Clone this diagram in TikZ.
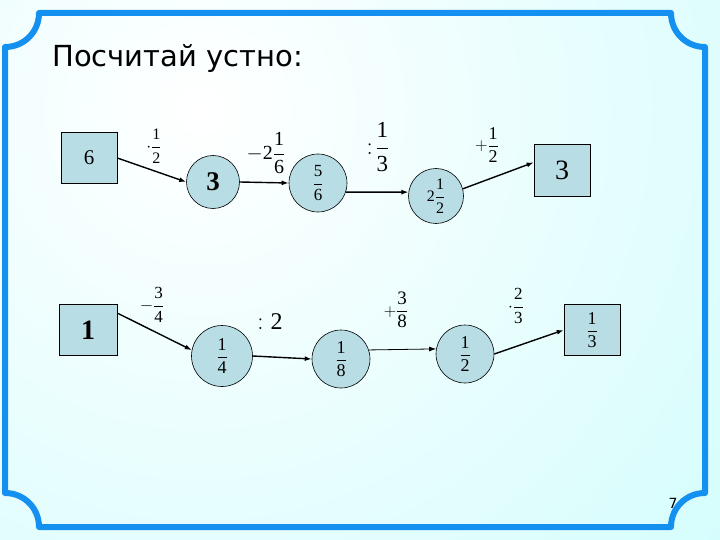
\documentclass[tikz,border=0pt]{standalone}
\usepackage{amsmath}
\usepackage{fontspec}
\setmainfont{Liberation Serif}
\newfontfamily\titlefont{DejaVu Sans}
\usetikzlibrary{arrows.meta}
\definecolor{framec}{RGB}{20,145,240}
\definecolor{bgc}{RGB}{205,252,252}
\definecolor{nodec}{RGB}{184,221,228}
\newcommand\fsz[1]{\fontsize{#1}{#1}\selectfont}
\newcommand\tf[2]{\dfrac{\text{#1}}{\text{#2}}}
\tikzset{
  frameline/.style={draw=framec, line width=6pt, line join=round},
  valbox/.style={draw, fill=nodec, minimum width=56pt, minimum height=51pt, inner sep=0pt, line width=0.6pt},
  valcirc/.style={draw, fill=nodec, circle, inner sep=0pt, line width=0.6pt},
  lbl/.style={inner sep=0pt},
  arr/.style={-{Latex[length=7pt,width=5pt]}, line width=1.4pt},
  thinarr/.style={-{Latex[length=7pt,width=5pt]}, line width=0.8pt}
}
\begin{document}
\begin{tikzpicture}[x=1pt,y=-1pt]
\useasboundingbox (0,0) rectangle (720,540);
\begin{scope}
\clip (0,0) rectangle (720,540);
\shade[inner color=white, outer color=bgc] (200,110) circle (820);
\end{scope}

% title and page number
\node[anchor=base west, inner sep=0pt, font=\titlefont\fsz{29}] (title) at (52,67) {Посчитай устно:};
\node[font=\titlefont\fsz{14}, inner sep=0pt] (pg) at (673,503) {7};

% frame
\draw[frameline] (39,13) -- (671,13) .. controls (671,32) and (686,47) .. (705,47)
  -- (705,493) .. controls (686,493) and (671,508) .. (671,527)
  -- (39,527) .. controls (39,508) and (24,493) .. (5,493)
  -- (5,47) .. controls (24,47) and (39,32) .. (39,13) -- cycle;

% row 1
\node[valbox] (b6) at (89,158) {\fsz{21}6};
\node[valcirc, minimum size=53pt] (c3) at (213,182) {\fsz{27}\textbf{3}};
\node[valcirc, minimum size=58pt] (c56) at (318,183) {\fsz{17}$\tf{5}{6}$};
\node[valcirc, minimum size=55pt] (c212) at (436,196) {\fsz{16}$\text{2}\tf{1}{2}$};
\node[valbox, minimum height=52pt] (b3) at (562,170) {\fsz{28}3};

\node[lbl] (l1) at (154,146) {\fsz{16}$\cdot\tf{1}{2}$};
\node[lbl] (l2) at (266,153) {\fsz{20}$-\text{2}\tf{1}{6}$};
\node[lbl] (l3) at (378,147) {\fsz{23}$:\!\tf{1}{3}$};
\node[lbl] (l4) at (487,145) {\fsz{18}$+\tf{1}{2}$};

\draw[arr] (b6.east) -- (c3.west);
\draw[arr] (c3.east) -- (c56.west);
\draw[arr] (c56.-18) -- (c212.172);
\draw[arr] (c212.15) -- (b3.165);

% row 2
\node[valbox, minimum width=58pt] (b1) at (88,330) {\fsz{28}\textbf{1}};
\node[valcirc, minimum size=61pt] (c14) at (222,356) {\fsz{18}$\tf{1}{4}$};
\node[valcirc, minimum size=58pt] (c18) at (341,359) {\fsz{18}$\tf{1}{8}$};
\node[valcirc, minimum size=58pt] (c12) at (465,354) {\fsz{18}$\tf{1}{2}$};
\node[valbox] (b13) at (592,330) {\fsz{18}$\tf{1}{3}$};

\node[lbl] (l5) at (152,305) {\fsz{17}$-\tf{3}{4}$};
\node[lbl] (l6) at (270,322) {\fsz{24}$:\text{2}$};
\node[lbl] (l7) at (396,310) {\fsz{19}$+\tf{3}{8}$};
\node[lbl] (l8) at (516,306) {\fsz{17}$\cdot\tf{2}{3}$};

\draw[arr] (b1.30) -- (c14.169);
\draw[arr] (c14.east) -- (c18.west);
\draw[thinarr] (c18.18) -- (c12.170);
\draw[arr] (c12.east) -- (b13.west);
\end{tikzpicture}
\end{document}
